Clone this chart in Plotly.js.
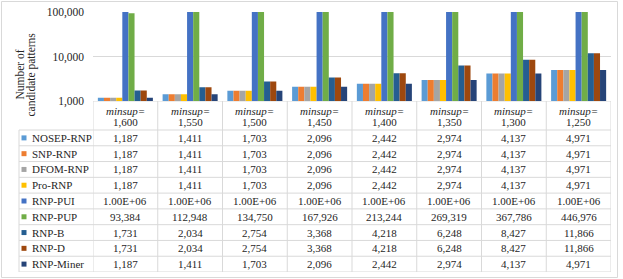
<!DOCTYPE html>
<html><head><meta charset="utf-8">
<script src="https://cdn.plot.ly/plotly-3.0.1.min.js"></script>
<style>html,body{margin:0;padding:0;background:#fff;}#chart{width:623px;height:279px;}</style>
</head><body><div id="chart"></div>
<script>
// ---- data ----
const minsup = [1600, 1550, 1500, 1450, 1400, 1350, 1300, 1250];
const seriesNames = ['NOSEP-RNP', 'SNP-RNP', 'DFOM-RNP', 'Pro-RNP', 'RNP-PUI', 'RNP-PUP', 'RNP-B', 'RNP-D', 'RNP-Miner'];
const nosepRnp = [1187, 1411, 1703, 2096, 2442, 2974, 4137, 4971];
const snpRnp   = [1187, 1411, 1703, 2096, 2442, 2974, 4137, 4971];
const dfomRnp  = [1187, 1411, 1703, 2096, 2442, 2974, 4137, 4971];
const proRnp   = [1187, 1411, 1703, 2096, 2442, 2974, 4137, 4971];
const rnpPui   = [1000000, 1000000, 1000000, 1000000, 1000000, 1000000, 1000000, 1000000];
const rnpPup   = [93384, 112948, 134750, 167926, 213244, 269319, 367786, 446976];
const rnpB     = [1731, 2034, 2754, 3368, 4218, 6248, 8427, 11866];
const rnpD     = [1731, 2034, 2754, 3368, 4218, 6248, 8427, 11866];
const rnpMiner = [1187, 1411, 1703, 2096, 2442, 2974, 4137, 4971];
const seriesValues = [nosepRnp, snpRnp, dfomRnp, proRnp, rnpPui, rnpPup, rnpB, rnpD, rnpMiner];
const yTickVals = [1000, 10000, 100000];
const yTitleLines = ['Number of', 'candidate patterns'];
const headerWord = 'minsup=';

// ---- styles ----
const colors = ['#5B9BD5', '#ED7D31', '#A5A5A5', '#FFC000', '#4472C4', '#70AD47', '#255E91', '#9E480E', '#264478'];
const FONT = 'Liberation Serif, Times New Roman, serif';
const TXT = '#262626';
const GRID = '#d9d9d9';

const W = 623, H = 279;
const L = 93, R = 12, T = 12, B = 7;
const PW = W - L - R, PH = H - T - B;
const plotBottomPx = 101;                  // y of 1,000 axis
const tableH = (H - B) - plotBottomPx;     // height of table region in px
const headerH = 29;
const rowH = (tableH - headerH) / seriesNames.length;
const px2x = px => (px - L) / PW;
const px2y = py => ((H - B) - py) / PH;

const fmtNum = v => v.toLocaleString('en-US');
const fmtVal = v => {
  if (v >= 1e6) {
    const [m, e] = v.toExponential(2).split('e');
    const ex = parseInt(e, 10);
    return m + 'E' + (ex < 0 ? '-' : '+') + String(Math.abs(ex)).padStart(2, '0');
  }
  return fmtNum(v);
};

const cats = minsup.map(m => headerWord + fmtNum(m));

const traces = seriesNames.map((name, s) => ({
  type: 'bar', name: name, x: cats, y: seriesValues[s],
  marker: {color: colors[s], line: {width: 0}},
  hoverinfo: 'skip'
}));

const annotations = [];
const shapes = [];
const mk = (o, size) => Object.assign({showarrow: false, xanchor: 'center', yanchor: 'middle',
  font: {family: FONT, size: size || 11, color: TXT}}, o);

// header row
minsup.forEach((m, i) => {
  annotations.push(mk({x: i, xref: 'x', y: 10, yref: 'y2', text: '<i>' + headerWord + '</i>'}));
  annotations.push(mk({x: i, xref: 'x', y: 20.7, yref: 'y2', text: fmtNum(m)}));
});
// data rows
seriesNames.forEach((name, r) => {
  const yc = headerH + rowH * (r + 0.5);
  seriesValues[r].forEach((v, i) => {
    annotations.push(mk({x: i, xref: 'x', y: yc, yref: 'y2', text: fmtVal(v)}));
  });
  annotations.push(mk({x: px2x(29.5), xref: 'paper', xanchor: 'left', y: yc, yref: 'y2', text: name}));
  shapes.push({type: 'rect', xref: 'paper', yref: 'y2', x0: px2x(21.5), x1: px2x(26.5), y0: yc - 2.5, y1: yc + 2.5,
    fillcolor: colors[r], line: {width: 0}});
});
// y title (two rotated lines)
annotations.push(mk({x: px2x(19.5), xref: 'paper', y: px2y(75), yref: 'paper', text: yTitleLines[0], textangle: -90}, 11.5));
annotations.push(mk({x: px2x(30.5), xref: 'paper', y: px2y(75), yref: 'paper', text: yTitleLines[1], textangle: -90}, 11.5));

// table grid
const ln = {color: GRID, width: 1};
for (let k = 0; k <= seriesNames.length; k++) {
  const y = headerH + rowH * k;
  shapes.push({type: 'line', xref: 'paper', yref: 'y2', x0: px2x(19), x1: 1, y0: y, y1: y, line: ln});
}
shapes.push({type: 'line', xref: 'paper', yref: 'y2', x0: 0, x1: 1, y0: 0, y1: 0, line: ln});
for (let i = 0; i <= minsup.length; i++) {
  shapes.push({type: 'line', xref: 'x', yref: 'y2', x0: i - 0.5, x1: i - 0.5, y0: 0, y1: tableH, line: ln});
}
shapes.push({type: 'line', xref: 'paper', yref: 'y2', x0: px2x(19), x1: px2x(19), y0: headerH, y1: tableH, line: ln});
// outer chart border
shapes.push({type: 'rect', xref: 'paper', yref: 'paper', x0: px2x(1.5), x1: px2x(617.5), y0: px2y(277.5), y1: px2y(1.5),
  line: {color: GRID, width: 1}, fillcolor: 'rgba(0,0,0,0)', layer: 'below'});

const layout = {
  width: W, height: H,
  margin: {l: L, r: R, t: T, b: B, pad: 0},
  paper_bgcolor: '#fff', plot_bgcolor: 'rgba(0,0,0,0)',
  showlegend: false,
  barmode: 'group', bargap: 0.15, bargroupgap: 0,
  font: {family: FONT, color: TXT},
  xaxis: {type: 'category', range: [-0.5, minsup.length - 0.5], showticklabels: false, showgrid: false,
    zeroline: false, showline: false, ticks: '', fixedrange: true},
  yaxis: {type: 'log', range: [3, 5], domain: [tableH / PH, 1], tickvals: yTickVals, ticktext: yTickVals.map(fmtNum),
    showgrid: true, gridcolor: GRID, gridwidth: 1, zeroline: false, showline: false, ticks: '',
    ticklabelstandoff: 8, tickfont: {family: FONT, size: 11.5, color: TXT}, fixedrange: true},
  yaxis2: {domain: [0, tableH / PH], range: [tableH, 0], anchor: 'x', visible: false, fixedrange: true},
  annotations: annotations,
  shapes: shapes
};

Plotly.newPlot('chart', traces, layout, {displayModeBar: false, staticPlot: true});
</script>
</body></html>
